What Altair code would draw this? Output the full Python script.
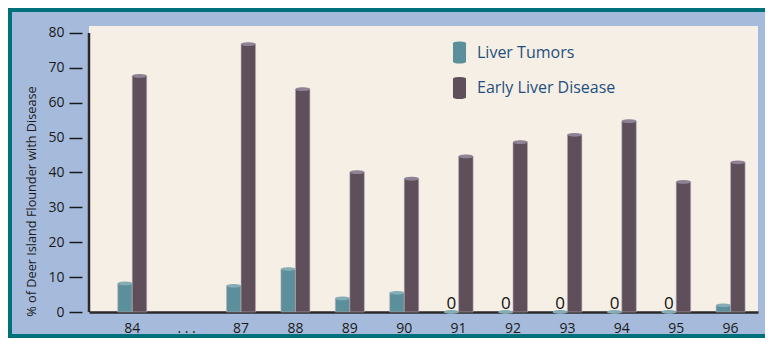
import altair as alt
import pandas as pd

years = ["84", "...", "87", "88", "89", "90", "91", "92", "93", "94", "95", "96"]
liver_tumors = [8.2, None, 7.5, 12.3, 3.9, 5.5, 0, 0, 0, 0, 0, 1.9]
early_disease = [67.7, None, 76.8, 63.9, 40.1, 38.2, 44.6, 48.7, 50.8, 54.7, 37.3, 42.9]
series = ["Liver Tumors", "Early Liver Disease"]
y_ticks = [0, 10, 20, 30, 40, 50, 60, 70, 80]
bar_colors = ["#5b8f9b", "#5e4f5a"]
top_colors = ["#86adb6", "#8f8295"]

rows = []
for y, t, d in zip(years, liver_tumors, early_disease):
    if t is not None:
        rows.append({"year": y, "series": series[0], "value": t, "top": top_colors[0]})
    if d is not None:
        rows.append({"year": y, "series": series[1], "value": d, "top": top_colors[1]})
df = pd.DataFrame(rows)
zeros = df[(df["series"] == series[0]) & (df["value"] == 0)].assign(label="0")

FONT = "Open Sans"
W, H = 669, 286
PL, PT, PR, PB = 81, 18, 7, 26
TEAL = "#00717a"

xscale = alt.Scale(domain=years, paddingInner=0.467, paddingOuter=0.383, align=0.69)
yscale = alt.Scale(domain=[0, 82], nice=False)
xoff = alt.XOffset("series:N", sort=series, scale=alt.Scale(domain=series))

yaxis = alt.Axis(title="% of Deer Island Flounder with Disease", values=y_ticks, tickCount=12,
                 domain=False, grid=False, tickSize=13, tickWidth=1.5, tickColor="#1a1a1a",
                 offset=7, labelPadding=5, labelFontSize=14, labelColor="#1a1a1a",
                 labelOverlap=False, labelFont=FONT, titleFont=FONT, titleFontSize=12.7,
                 titleFontWeight="normal", titleColor="#1a1a1a", titlePadding=9, titleY=175)
xaxis = alt.Axis(title=None, labelAngle=0, ticks=False, domainColor="#2a2a2a",
                 domainWidth=2.5, labelPadding=9, labelFontSize=14,
                 labelColor="#1a1a1a", labelFont=FONT,
                 labelExpr="datum.value == '...' ? '.   .   .' : datum.value")

base = alt.Chart(df)

cyl = "M-0.5,-0.7 A0.5,0.14 0 0,1 0.5,-0.7 L0.5,0.7 A0.5,0.14 0 0,1 -0.5,0.7 Z"

bars = base.mark_bar(stroke="#b9adb3", strokeWidth=0.6).encode(
    x=alt.X("year:N", scale=xscale, sort=years, axis=xaxis),
    xOffset=xoff,
    y=alt.Y("value:Q", scale=yscale, axis=yaxis),
    color=alt.Color("series:N", scale=alt.Scale(domain=series, range=bar_colors),
                    legend=alt.Legend(title=None, orient="none", legendX=357, legendY=13,
                                      symbolType=cyl, symbolSize=680, symbolStrokeWidth=0,
                                      symbolOpacity=1, labelFontSize=16, labelFont=FONT,
                                      labelColor="#1f4f7f", labelOffset=4, rowPadding=10.5,
                                      padding=0)),
)

tops = base.mark_point(
    shape="M-1,0 A1,0.26 0 1,0 1,0 A1,0.26 0 1,0 -1,0 Z", filled=True, size=215, opacity=1
).encode(
    x=alt.X("year:N", scale=xscale, sort=years, axis=xaxis),
    xOffset=xoff,
    y=alt.Y("value:Q", scale=yscale, axis=yaxis),
    color=alt.Color("top:N", scale=None),
)

zero_text = alt.Chart(zeros).mark_text(
    font=FONT, fontSize=17, color="#111111", baseline="alphabetic", dy=-3
).encode(
    x=alt.X("year:N", scale=xscale, sort=years, axis=xaxis),
    xOffset=xoff,
    y=alt.Y("value:Q", scale=yscale, axis=yaxis),
    text="label:N",
)

axis_line = alt.Chart(pd.DataFrame({"value": [80], "b": [0]})).mark_rule(
    color="#2a2a2a", strokeWidth=2.5
).encode(x=alt.value(0), y=alt.Y("value:Q", scale=yscale, axis=yaxis), y2="b:Q")

one = pd.DataFrame({"a": [0]})
border_top = alt.Chart(one).mark_rule(color=TEAL, strokeWidth=4).encode(
    x=alt.value(-PL), x2=alt.value(W + PR), y=alt.value(-PT + 2))
border_left = alt.Chart(one).mark_rule(color=TEAL, strokeWidth=4).encode(
    x=alt.value(-PL + 2), y=alt.value(-PT), y2=alt.value(H + PB))
border_bottom = alt.Chart(one).mark_rule(color=TEAL, strokeWidth=4).encode(
    x=alt.value(-PL), x2=alt.value(W + PR), y=alt.value(H + PB - 2))

chart = alt.layer(border_top, border_left, border_bottom, bars, tops, zero_text, axis_line).properties(
    width=W, height=H,
    autosize=alt.AutoSizeParams(type="none"),
    padding={"left": PL, "top": PT, "right": PR, "bottom": PB},
    background="#a6bbdc",
).configure_view(fill="#f6efe5", stroke=None)

chart.save("out.html", embed_options={"renderer": "svg", "actions": False})
